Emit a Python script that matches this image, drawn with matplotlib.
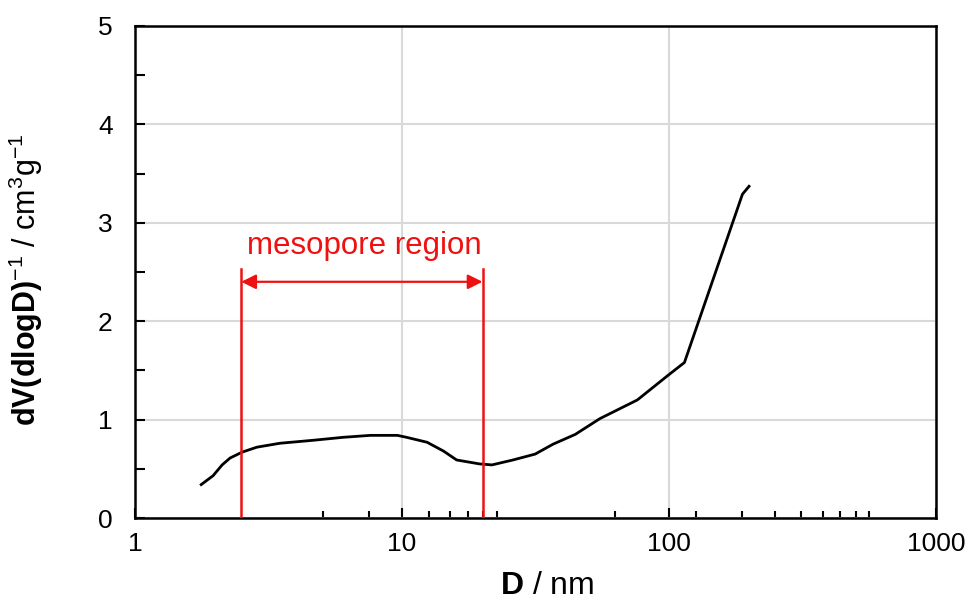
#!/usr/bin/env python3
import matplotlib
matplotlib.use("Agg")
import matplotlib.pyplot as plt
from matplotlib.ticker import FixedLocator, NullFormatter

plt.rcParams["font.family"] = ["Liberation Sans", "DejaVu Sans"]
plt.rcParams["mathtext.fontset"] = "custom"
plt.rcParams["mathtext.rm"] = "Liberation Sans"
plt.rcParams["mathtext.bf"] = "Liberation Sans:bold"

# pore size distribution
diam_nm = [1.77, 1.96, 2.12, 2.27, 2.52, 2.86, 3.49, 4.64, 6.0, 7.6, 9.6,
           10.4, 12.4, 14.3, 16.0, 19.5, 21.7, 26.0, 31.5, 36.7, 44.5, 55.0,
           76.0, 99.0, 114.0, 188.0, 199.0]
dv_dlogd = [0.34, 0.43, 0.54, 0.61, 0.67, 0.72, 0.76, 0.79, 0.82, 0.84, 0.84,
            0.82, 0.77, 0.68, 0.59, 0.55, 0.54, 0.59, 0.65, 0.75, 0.85, 1.01,
            1.20, 1.45, 1.58, 3.29, 3.37]

# mesopore region markers
meso_lo = 2.5
meso_hi = 20.0
meso_label = "mesopore region"

# odd minor tick positions as seen on the x axis of the original
x_minor = [5.06, 7.52, 12.6, 15.1, 17.7, 20.1, 22.7, 62.8,
           126, 188, 249, 312, 377, 437, 501, 561]


def main():
    fig = plt.figure(figsize=(9.69, 6.01), dpi=100)
    ax = fig.add_axes([0.1393, 0.138, 0.827, 0.819])

    ax.plot(diam_nm, dv_dlogd, color="black", lw=2.0, zorder=3)

    ax.set_xscale("log")
    ax.set_xlim(1, 1000)
    ax.set_ylim(0, 5)
    ax.set_xticks([1, 10, 100, 1000])
    ax.set_xticklabels(["1", "10", "100", "1000"])
    ax.xaxis.set_minor_locator(FixedLocator(x_minor))
    ax.xaxis.set_minor_formatter(NullFormatter())
    ax.set_yticks([0, 1, 2, 3, 4, 5])
    ax.yaxis.set_minor_locator(FixedLocator([0.5, 1.5, 2.5, 3.5, 4.5]))

    ax.grid(True, which="major", color="#d9d9d9", lw=1.5, zorder=0)
    ax.set_axisbelow(True)
    for s in ax.spines.values():
        s.set_linewidth(1.8)

    ax.tick_params(axis="both", which="both", direction="in",
                   labelsize=19, width=1.5, pad=10)
    ax.tick_params(axis="x", which="major", length=7)
    ax.tick_params(axis="x", which="minor", length=5)
    ax.tick_params(axis="y", which="both", length=7)
    ax.tick_params(axis="y", which="major", pad=16)

    # mesopore annotation
    red = "#ee1111"
    top = 2.53
    ax.plot([meso_lo, meso_lo], [0, top], color=red, lw=1.8, zorder=4)
    ax.plot([meso_hi, meso_hi], [0, top], color=red, lw=1.8, zorder=4)
    ax.annotate("", xy=(meso_lo, 2.40), xytext=(meso_hi, 2.40),
                arrowprops=dict(arrowstyle="<|-|>", color=red, lw=1.6,
                                mutation_scale=22, shrinkA=0, shrinkB=0),
                zorder=4)
    ax.text((meso_lo * meso_hi) ** 0.5 * 1.02, 2.61, meso_label, color=red,
            fontsize=22.5, ha="center", va="bottom")

    ax.set_xlabel(r"$\mathbf{D}$ / nm", fontsize=23)
    ax.xaxis.set_label_coords(0.514, -0.108)
    ax.set_ylabel(r"$\mathbf{dV(dlogD)}^{\mathrm{-1}}$ / cm$^{\mathrm{3}}$g$^{\mathrm{-1}}$",
                  fontsize=22)
    ax.yaxis.set_label_coords(-0.112, 0.484)

    fig.savefig("out.png", dpi=100)


if __name__ == "__main__":
    main()
